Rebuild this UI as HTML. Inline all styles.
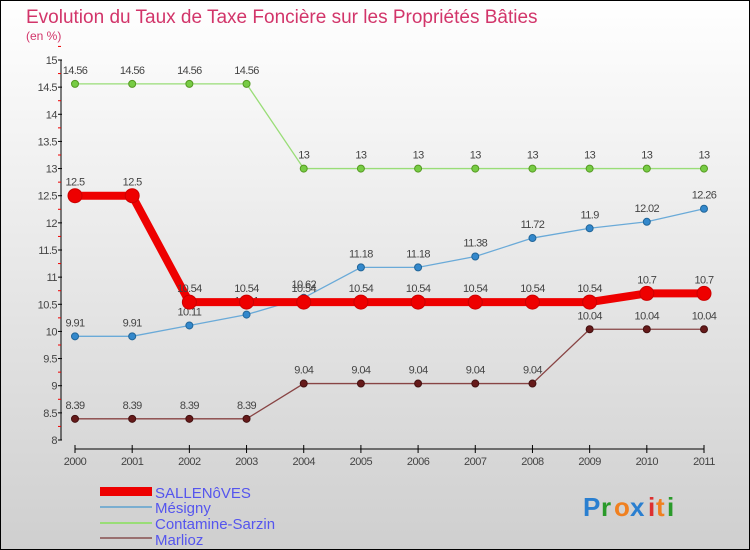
<!DOCTYPE html>
<html><head><meta charset="utf-8"><style>
body{margin:0;width:750px;height:550px;overflow:hidden;font-family:"Liberation Sans",sans-serif}
svg{display:block}
</style></head><body>
<svg width="750" height="550">
<defs><linearGradient id="bg" x1="0" y1="0" x2="0" y2="1"><stop offset="0" stop-color="#ffffff"/><stop offset="1" stop-color="#cfcfcf"/></linearGradient></defs>
<rect x="0.5" y="0.5" width="749" height="549" fill="url(#bg)" stroke="#000"/>
<text x="26" y="23" font-size="19" fill="#d2356a">Evolution du Taux de Taxe Foncière sur les Propriétés Bâties</text>
<text x="26" y="40" font-size="12" fill="#d2356a">(en %)</text>
<g id="axes"></g>
<g id="series"></g>
<g id="legend">
<rect x="100" y="487" width="52" height="9" fill="#ee0000"/>
<text x="155" y="498" font-size="15" fill="#5555ee">SALLENôVES</text>
<rect x="100" y="506" width="52" height="2" fill="#7aaed0"/>
<text x="155" y="513" font-size="15" fill="#5555ee">Mésigny</text>
<rect x="100" y="522" width="52" height="2" fill="#99dd77"/>
<text x="155" y="529" font-size="15" fill="#5555ee">Contamine-Sarzin</text>
<rect x="100" y="537" width="52" height="2" fill="#997070"/>
<text x="155" y="545" font-size="15" fill="#5555ee">Marlioz</text>
</g>
<g font-size="26" font-weight="bold">
<text x="583" y="516" fill="#2a7fd0">P</text><text x="601" y="516" fill="#2a9a2a">r</text><text x="614" y="516" fill="#f08020">o</text><text x="630" y="516" fill="#2a7fd0">x</text><text x="648" y="516" fill="#dd3030">i</text><text x="656" y="516" fill="#f08020">t</text><text x="667" y="516" fill="#2a9a2a">i</text>
</g>
</svg>
<script>
const years=[2000,2001,2002,2003,2004,2005,2006,2007,2008,2009,2010,2011];
const yTicks=[8,8.5,9,9.5,10,10.5,11,11.5,12,12.5,13,13.5,14,14.5,15];
const sallenoves=[12.5,12.5,10.54,10.54,10.54,10.54,10.54,10.54,10.54,10.54,10.7,10.7];
const mesigny=[9.91,9.91,10.11,10.31,10.62,11.18,11.18,11.38,11.72,11.9,12.02,12.26];
const contamine=[14.56,14.56,14.56,14.56,13,13,13,13,13,13,13,13];
const marlioz=[8.39,8.39,8.39,8.39,9.04,9.04,9.04,9.04,9.04,10.04,10.04,10.04];
const NS="http://www.w3.org/2000/svg";
const X=i=>75+i*(629/11);
const Y=v=>440-(v-8)*(380/7);
function mk(t,a,p){const e=document.createElementNS(NS,t);for(const k in a)e.setAttribute(k,a[k]);p.appendChild(e);return e;}
const ax=document.getElementById('axes');
let l=mk('line',{x1:61,y1:60,x2:61,y2:440,stroke:'#000'},ax);


yTicks.forEach(v=>{
 mk('line',{x1:58,y1:Y(v),x2:62,y2:Y(v),stroke:'#000'},ax);
 mk('line',{x1:58,y1:Y(v+0.25),x2:61,y2:Y(v+0.25),stroke:'#e00'},ax);
 const t=mk('text',{x:57,y:Y(v)+4,'font-size':11,fill:'#444','text-anchor':'end','letter-spacing':'-0.5'},ax);
 t.textContent=v;
 
 
});
l=mk('line',{x1:X(0),y1:449,x2:X(11),y2:449,stroke:'#000'},ax);


years.forEach((y,i)=>{
 mk('line',{x1:X(i),y1:445,x2:X(i),y2:453,stroke:'#000'},ax);
 const t=mk('text',{x:X(i),y:465,'font-size':11,fill:'#444','text-anchor':'middle','letter-spacing':'-0.5'},ax);
 t.textContent=y;
 
 
});
const sg=document.getElementById('series');
function series(name,data,color,w,r,dot,dotStroke){
 const g=mk('g',{},sg);
 
 
 mk('polyline',{points:data.map((v,i)=>X(i)+','+Y(v)).join(' '),fill:'none',stroke:color,'stroke-width':w},g);
 data.forEach((v,i)=>{
  const c=mk('circle',{cx:X(i),cy:Y(v),r:r,fill:dot,stroke:dotStroke,'stroke-width':1},g);
  
  
  const t=mk('text',{x:X(i),y:Y(v)-10,'font-size':11,fill:'#444','text-anchor':'middle','letter-spacing':'-0.6'},g);
  t.textContent=v;
  
  
 });
}
series('contamine',contamine,'#99dd77',1.3,3.5,'#77cc44','#559922');
series('marlioz',marlioz,'#884444',1.3,3.5,'#661a1a','#441111');
series('mesigny',mesigny,'#6aaad8',1.3,3.5,'#3388cc','#226699');
series('sallenoves',sallenoves,'#ee0000',8,7,'#ee0000','#cc0000');
</script>
</body></html>
